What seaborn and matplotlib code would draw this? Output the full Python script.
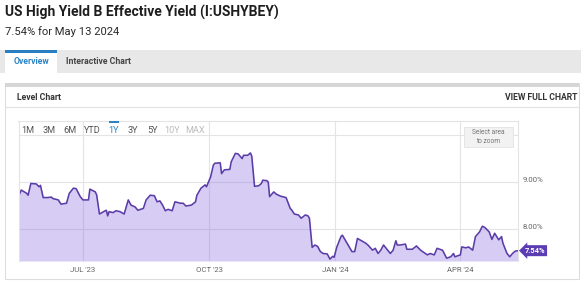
import matplotlib
matplotlib.use("Agg")
import matplotlib.pyplot as plt
import matplotlib.transforms as mtransforms
from matplotlib.patches import Rectangle
import numpy as np
import pandas as pd
import seaborn as sns

# ---------------- data ----------------
title = "US High Yield B Effective Yield (I:USHYBEY)"
subtitle = "7.54% for May 13 2024"

dates = [
    "2023-05-15", "2023-05-17", "2023-05-21", "2023-05-22", "2023-05-24", "2023-05-28",
    "2023-05-30", "2023-05-31", "2023-06-02", "2023-06-05", "2023-06-08", "2023-06-09",
    "2023-06-13", "2023-06-15", "2023-06-19", "2023-06-21", "2023-06-24", "2023-06-26",
    "2023-06-29", "2023-07-01", "2023-07-05", "2023-07-06", "2023-07-10", "2023-07-11",
    "2023-07-13", "2023-07-16", "2023-07-18", "2023-07-19", "2023-07-20", "2023-07-23",
    "2023-07-25", "2023-07-28", "2023-07-31", "2023-08-03", "2023-08-05", "2023-08-08",
    "2023-08-10", "2023-08-14", "2023-08-16", "2023-08-19", "2023-08-22", "2023-08-24",
    "2023-08-26", "2023-08-28", "2023-08-30", "2023-09-01", "2023-09-04", "2023-09-06",
    "2023-09-10", "2023-09-12", "2023-09-14", "2023-09-18", "2023-09-21", "2023-09-22",
    "2023-09-25", "2023-09-28", "2023-09-29", "2023-10-02", "2023-10-04", "2023-10-05",
    "2023-10-09", "2023-10-10", "2023-10-12", "2023-10-16", "2023-10-17", "2023-10-20",
    "2023-10-22", "2023-10-25", "2023-10-26", "2023-10-29", "2023-10-31", "2023-11-01",
    "2023-11-03", "2023-11-06", "2023-11-08", "2023-11-09", "2023-11-12", "2023-11-13",
    "2023-11-14", "2023-11-17", "2023-11-19", "2023-11-22", "2023-11-26", "2023-11-29",
    "2023-11-30", "2023-12-02", "2023-12-05", "2023-12-07", "2023-12-10", "2023-12-12",
    "2023-12-13", "2023-12-15", "2023-12-17", "2023-12-19", "2023-12-21", "2023-12-23",
    "2023-12-26", "2023-12-28", "2023-12-30", "2023-12-31", "2024-01-02", "2024-01-05",
    "2024-01-06", "2024-01-08", "2024-01-11", "2024-01-13", "2024-01-15", "2024-01-17",
    "2024-01-20", "2024-01-23", "2024-01-25", "2024-01-28", "2024-01-30", "2024-02-01",
    "2024-02-03", "2024-02-05", "2024-02-08", "2024-02-10", "2024-02-12", "2024-02-14",
    "2024-02-15", "2024-02-17", "2024-02-21", "2024-02-22", "2024-02-26", "2024-02-29",
    "2024-03-03", "2024-03-08", "2024-03-10", "2024-03-13", "2024-03-15", "2024-03-19",
    "2024-03-22", "2024-03-25", "2024-03-27", "2024-03-28", "2024-04-01", "2024-04-02",
    "2024-04-05", "2024-04-07", "2024-04-10", "2024-04-12", "2024-04-15", "2024-04-17",
    "2024-04-19", "2024-04-22", "2024-04-24", "2024-04-26", "2024-04-29", "2024-05-01",
    "2024-05-02", "2024-05-05", "2024-05-07", "2024-05-09", "2024-05-11", "2024-05-13",
]
values = [
    8.69, 8.83, 8.76, 8.72, 8.97, 8.96,
    8.90, 8.93, 8.67, 8.67, 8.68, 8.65,
    8.62, 8.53, 8.55, 8.76, 8.87, 8.86,
    8.69, 8.62, 8.62, 8.85, 8.79, 8.72,
    8.32, 8.37, 8.40, 8.28, 8.37, 8.35,
    8.39, 8.37, 8.32, 8.62, 8.51, 8.47,
    8.40, 8.44, 8.62, 8.72, 8.71, 8.58,
    8.60, 8.51, 8.39, 8.42, 8.39, 8.58,
    8.55, 8.55, 8.49, 8.51, 8.58, 8.72,
    8.87, 8.94, 8.90, 9.11, 9.36, 9.40,
    9.41, 9.18, 9.26, 9.27, 9.43, 9.61,
    9.60, 9.50, 9.57, 9.57, 9.62, 9.55,
    8.91, 8.92, 8.97, 9.04, 9.03, 9.00,
    8.69, 8.79, 8.74, 8.70, 8.67, 8.44,
    8.41, 8.32, 8.30, 8.23, 8.30, 8.28,
    8.23, 7.61, 7.66, 7.63, 7.52, 7.48,
    7.47, 7.36, 7.42, 7.40, 7.62, 7.84,
    7.87, 7.77, 7.62, 7.52, 7.52, 7.80,
    7.75, 7.70, 7.65, 7.55, 7.59, 7.48,
    7.55, 7.66, 7.55, 7.48, 7.55, 7.75,
    7.66, 7.66, 7.68, 7.57, 7.57, 7.64,
    7.55, 7.45, 7.48, 7.45, 7.59, 7.55,
    7.38, 7.41, 7.48, 7.41, 7.45, 7.62,
    7.60, 7.62, 7.55, 7.84, 7.94, 8.06,
    8.03, 7.94, 7.78, 7.91, 7.77, 7.84,
    7.70, 7.48, 7.41, 7.48, 7.53, 7.54,
]

tick_dates = ["2023-07-01", "2023-10-01", "2024-01-01", "2024-04-01"]
tick_labels = ["JUL '23", "OCT '23", "JAN '24", "APR '24"]
y_ticks = [8.0, 9.0, 10.0]
y_tick_labels = ["8.00%", "9.00%", ""]
range_buttons = ["1M", "3M", "6M", "YTD", "1Y", "3Y", "5Y", "10Y", "MAX"]
tabs = ["Overview", "Interactive Chart"]

# ---------------- styling ----------------
sns.set_theme(style="white")
plt.rcParams["font.family"] = ["Roboto", "DejaVu Sans"]

W, H = 581, 288
fig = plt.figure(figsize=(W / 100, H / 100), dpi=100)
fig.patch.set_facecolor("white")


def fx(x):
    return x / W


def fy(y):
    return 1 - y / H


def rect(x0, y0, x1, y1, **kw):
    fig.patches.append(Rectangle((fx(x0), fy(y1)), (x1 - x0) / W, (y1 - y0) / H,
                                 transform=fig.transFigure, **kw))


def txt(x, y, s, **kw):
    fig.text(fx(x), fy(y), s, **kw)


NARROW = ["Roboto", "DejaVu Sans"]

# header
txt(5, 12.5, title, fontsize=10.0, fontweight="bold", color="#1e1e1e", va="center", ha="left")
txt(5, 31.5, subtitle, fontsize=8.1, color="#2a2a2a", va="center", ha="left")

# tab bar
rect(0, 50, 581, 72.5, facecolor="#e8e8e8", edgecolor="none")
rect(5, 50, 57, 73, facecolor="white", edgecolor="none")
rect(5, 50, 57, 52.5, facecolor="#2a7fc2", edgecolor="none")
txt(31, 62, tabs[0], fontsize=6.2, fontweight="bold", color="#2a84c6", va="center", ha="center",
    family=NARROW)
txt(66, 62, tabs[1], fontsize=6.2, fontweight="bold", color="#444444", va="center", ha="left",
    family=NARROW)

# panel
rect(4.5, 83, 579, 279, facecolor="white", edgecolor="#dddddd", linewidth=0.8)
rect(4.5, 83, 579, 86.5, facecolor="#d6d6d6", edgecolor="none")
txt(17, 97.5, "Level Chart", fontsize=6.2, fontweight="bold", color="#333333", va="center",
    ha="left", family=NARROW)
txt(577, 97.5, "VIEW FULL CHART", fontsize=6.2, fontweight="bold", color="#333333", va="center",
    ha="right", family=NARROW)
fig.add_artist(plt.Line2D([fx(5), fx(579)], [fy(106.5), fy(106.5)], transform=fig.transFigure,
                          color="#e2e2e2", lw=0.8))

# ---------------- chart ----------------
df = pd.DataFrame({"date": pd.to_datetime(dates), "value": values})
ax = fig.add_axes([fx(18.5), fy(261), (518 - 18.5) / W, (261 - 121) / H])
ax.set_zorder(5)
ax.patch.set_alpha(0)
ymin, ymax = 7.32, 10.30
ax.set_xlim(df["date"].iloc[0], df["date"].iloc[-1])
ax.set_ylim(ymin, ymax)
ax.set_axisbelow(True)
ax.grid(True, color="#e4e4e4", lw=0.8)

ax.fill_between(df["date"], df["value"], ymin, color="#8a6ae0", alpha=0.34, lw=0)
sns.lineplot(data=df, x="date", y="value", ax=ax, color="#5a3ca8", lw=1.15)

ax.set_xlabel("")
ax.set_ylabel("")
ax.set_xticks(pd.to_datetime(tick_dates))
ax.set_xticklabels(tick_labels)
ax.yaxis.tick_right()
ax.set_yticks(y_ticks)
ax.set_yticklabels(y_tick_labels)
ax.tick_params(axis="x", length=0, pad=4, labelsize=5.6, labelcolor="#666666")
ax.tick_params(axis="y", length=0, pad=3, labelsize=5.6, labelcolor="#666666")
for lbl in ax.get_xticklabels() + ax.get_yticklabels():
    lbl.set_family(NARROW)
shift = mtransforms.ScaledTranslation(0, 3 / 100, fig.dpi_scale_trans)
for lbl in ax.get_yticklabels():
    lbl.set_transform(lbl.get_transform() + shift)

for side in ["left", "top", "right"]:
    ax.spines[side].set_color("#e4e4e4")
    ax.spines[side].set_linewidth(0.8)
ax.spines["bottom"].set_visible(False)

# last value tag
ax.annotate(f"{values[-1]:.2f}%", xy=(1, values[-1]), xycoords=("axes fraction", "data"),
            xytext=(5, 0), textcoords="offset points", ha="left", va="center",
            fontsize=5.4, fontweight="bold", color="white", family=NARROW,
            bbox=dict(boxstyle="larrow,pad=0.2", fc="#5b3cb2", ec="none"),
            annotation_clip=False)

# range selector row
btn_x = [28, 49, 70, 92.5, 114, 133, 152, 172.5, 195]
for lab, bx in zip(range_buttons, btn_x):
    col = "#555555"
    if lab == "1Y":
        col = "#2a84c6"
    elif lab in ("10Y", "MAX"):
        col = "#bbbbbb"
    txt(bx, 130.5, lab, fontsize=6.6, color=col, ha="center", va="center", family=NARROW,
        zorder=6)
rect(109, 120.5, 119, 122.8, facecolor="#2a84c6", edgecolor="none", zorder=6)

rect(464, 127, 513, 147, facecolor="#f2f2f2", edgecolor="#e2e2e2", linewidth=0.6, zorder=6)
txt(488.5, 137, "Select area\nto zoom", fontsize=4.8, color="#777777", ha="center",
    va="center", family=NARROW, linespacing=1.3, zorder=7)

fig.savefig("out.png", dpi=100, facecolor="white")
